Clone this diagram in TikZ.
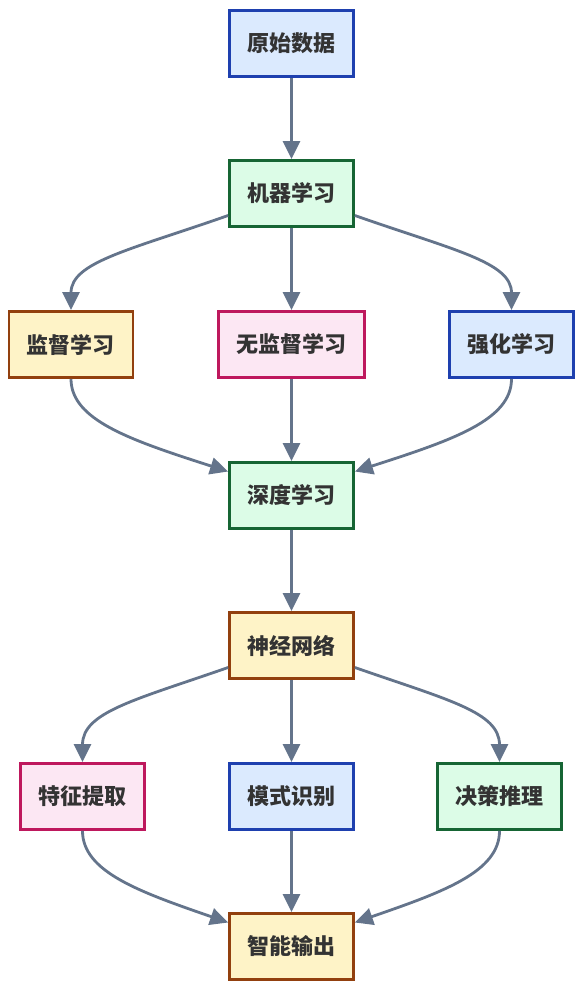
\documentclass[tikz,border=0pt]{standalone}
\usepackage{fontspec}
\newfontfamily\cjk{Noto Sans CJK SC}
\usetikzlibrary{arrows.meta,calc}
\definecolor{bluef}{HTML}{DBEAFE}\definecolor{blued}{HTML}{1E40AF}
\definecolor{greenf}{HTML}{DCFCE7}\definecolor{greend}{HTML}{166534}
\definecolor{yellowf}{HTML}{FEF3C7}\definecolor{yellowd}{HTML}{92400E}
\definecolor{pinkf}{HTML}{FCE7F3}\definecolor{pinkd}{HTML}{BE185D}
\definecolor{edgec}{HTML}{64748B}
\definecolor{txt}{HTML}{333333}
\tikzset{
  box/.style={draw, line width=2.8pt, minimum height=66pt, minimum width=124pt, inner sep=0pt,
    text=txt, font=\cjk\bfseries\fontsize{22}{24}\selectfont},
  bluebox/.style={box, fill=bluef, draw=blued},
  greenbox/.style={box, fill=greenf, draw=greend},
  yellowbox/.style={box, fill=yellowf, draw=yellowd},
  pinkbox/.style={box, fill=pinkf, draw=pinkd},
  conn/.style={draw=edgec, line width=2.8pt, -{Triangle[length=18pt,width=17pt]}, fill=none},
}
\begin{document}
\begin{tikzpicture}[x={(1pt,0)}, y={(0,-1pt)}]
\useasboundingbox (0,0) rectangle (587,990);
\node[bluebox] (raw) at (291.5,43.5) {原始数据};
\node[greenbox] (ml) at (291.5,193.5) {机器学习};
\node[yellowbox] (sup) at (71,344.5) {监督学习};
\node[pinkbox, minimum width=146pt] (unsup) at (291.5,344.5) {无监督学习};
\node[bluebox] (rl) at (511.5,344.5) {强化学习};
\node[greenbox] (dl) at (291.5,495.5) {深度学习};
\node[yellowbox] (nn) at (291.5,645.5) {神经网络};
\node[pinkbox] (fe) at (82.5,796.5) {特征提取};
\node[bluebox] (pr) at (291.5,796.5) {模式识别};
\node[greenbox] (dr) at (499.5,796.5) {决策推理};
\node[yellowbox] (out) at (291.5,946.5) {智能输出};

\coordinate (mlL) at ($(ml.west)+(0,22)$);
\coordinate (mlR) at ($(ml.east)+(0,22)$);
\coordinate (dlL) at ($(dl.west)+(0,-24)$);
\coordinate (dlR) at ($(dl.east)+(0,-24)$);
\coordinate (nnL) at ($(nn.west)+(0,22)$);
\coordinate (nnR) at ($(nn.east)+(0,22)$);
\coordinate (outL) at ($(out.west)+(0,-24)$);
\coordinate (outR) at ($(out.east)+(0,-24)$);

\draw[conn] (raw) -- (ml);
\draw[conn] (mlL) .. controls (130,250) and (71,262) .. (sup.north);
\draw[conn] (ml) -- (unsup);
\draw[conn] (mlR) .. controls (453,250) and (511.5,262) .. (rl.north);
\draw[conn] (sup.south) .. controls (71,420) and (130,440) .. (dlL);
\draw[conn] (unsup) -- (dl);
\draw[conn] (rl.south) .. controls (511.5,420) and (453,440) .. (dlR);
\draw[conn] (dl) -- (nn);
\draw[conn] (nnL) .. controls (135,700) and (82.5,712) .. (fe.north);
\draw[conn] (nn) -- (pr);
\draw[conn] (nnR) .. controls (448,700) and (499.5,712) .. (dr.north);
\draw[conn] (fe.south) .. controls (82.5,872) and (140,892) .. (outL);
\draw[conn] (pr) -- (out);
\draw[conn] (dr.south) .. controls (499.5,872) and (443,892) .. (outR);
\end{tikzpicture}
\end{document}
